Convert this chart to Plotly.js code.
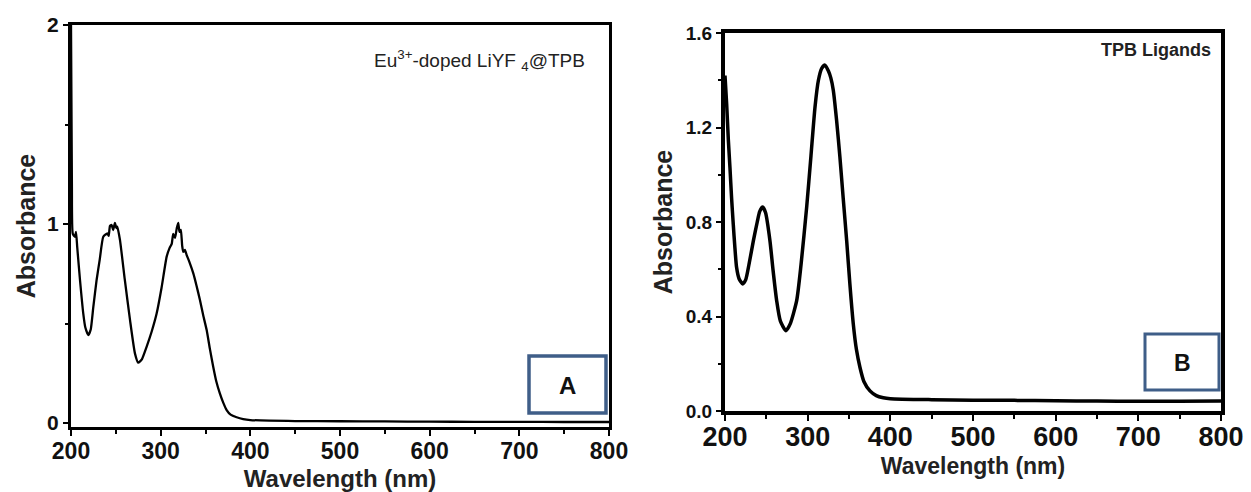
<!DOCTYPE html>
<html>
<head>
<meta charset="utf-8">
<script src="https://cdn.plot.ly/plotly-3.0.1.min.js"></script>
<style>
  html, body { margin: 0; padding: 0; background: #ffffff; }
  #chart { width: 1251px; height: 492px; }
</style>
</head>
<body>
<div id="chart"></div>
<script>
// Panel A: Eu3+-doped LiYF4@TPB absorbance
const wavelengthA = [200, 201, 202, 204.5, 205.6, 207, 210, 213.7, 216, 219.3, 222, 224.9, 228.6, 232, 236, 240.5, 242, 243.5, 245.3, 247, 249, 250.5, 251.6, 254.6, 260, 265.8, 271.3, 275, 279, 284.3, 290, 295.5, 301, 306.7, 310, 312.3, 314, 316, 318, 319.6, 321, 322.5, 324, 325.2, 327, 329, 332, 336.4, 340, 343.8, 347.5, 351.3, 355, 358.6, 362, 366, 370, 373.6, 378, 384.7, 392, 400, 450, 500, 550, 600, 650, 700, 750, 800];
const absorbA = [2.0, 1.2, 0.95, 0.936, 0.96, 0.88, 0.72, 0.55, 0.48, 0.442, 0.47, 0.584, 0.72, 0.82, 0.936, 0.953, 0.94, 0.99, 0.995, 0.97, 1.006, 0.98, 0.987, 0.92, 0.72, 0.518, 0.35, 0.303, 0.32, 0.383, 0.46, 0.55, 0.68, 0.836, 0.88, 0.90, 0.95, 0.93, 0.98, 1.006, 0.96, 0.97, 0.89, 0.86, 0.87, 0.844, 0.81, 0.752, 0.69, 0.618, 0.54, 0.467, 0.37, 0.283, 0.21, 0.149, 0.1, 0.065, 0.042, 0.029, 0.02, 0.015, 0.01, 0.009, 0.008, 0.007, 0.006, 0.006, 0.005, 0.005];

// Panel B: TPB ligands absorbance
const wavelengthB = [200, 202, 204, 206, 208, 210, 212, 214, 217, 221.4, 225, 229, 234.3, 239, 242, 245.6, 249, 254.4, 258, 262.5, 267, 273.8, 279, 286.7, 292, 298.8, 304, 308.9, 313, 317, 321, 325, 328, 331, 335, 339, 343, 347.2, 351, 355.2, 359, 363.3, 368, 375.4, 383, 391.5, 400, 450, 500, 550, 600, 650, 700, 750, 800];
const absorbB = [1.42, 1.3, 1.15, 1.03, 0.9, 0.79, 0.69, 0.608, 0.56, 0.538, 0.555, 0.62, 0.72, 0.8, 0.845, 0.863, 0.84, 0.72, 0.6, 0.467, 0.38, 0.34, 0.37, 0.467, 0.62, 0.863, 1.08, 1.287, 1.4, 1.45, 1.464, 1.44, 1.41, 1.358, 1.23, 1.075, 0.9, 0.72, 0.54, 0.368, 0.26, 0.184, 0.125, 0.085, 0.065, 0.056, 0.052, 0.048, 0.046, 0.045, 0.043, 0.042, 0.041, 0.041, 0.042];

const xTickVals = [200, 300, 400, 500, 600, 700, 800];
const yTickValsA = [0, 1, 2];
const yTickValsB = [0.0, 0.4, 0.8, 1.2, 1.6];
const yTickTextB = ['0.0', '0.4', '0.8', '1.2', '1.6'];

const W = 1251, H = 492;
const px = v => v / W;
const py = v => 1 - v / H;
const FONT = 'Liberation Sans, Arial, sans-serif';
const BOXC = '#3f5e88';

const traces = [
  { x: wavelengthA, y: absorbA, xaxis: 'x', yaxis: 'y', type: 'scatter', mode: 'lines',
    line: { color: '#000000', width: 2.3, shape: 'spline', smoothing: 0.5 }, showlegend: false, hoverinfo: 'skip' },
  { x: wavelengthB, y: absorbB, xaxis: 'x2', yaxis: 'y2', type: 'scatter', mode: 'lines',
    line: { color: '#000000', width: 3.5, shape: 'spline', smoothing: 0.6 }, showlegend: false, hoverinfo: 'skip' }
];

function xAxis(domain, lw, tickSize, titleSize, anchor, standoff, tls) {
  return {
    domain: domain, anchor: anchor, range: [200, 800], tickvals: xTickVals,
    showline: true, mirror: true, linecolor: '#000', linewidth: lw,
    ticks: 'outside', ticklen: 6, tickwidth: 2, tickcolor: '#000',
    ticklabelstandoff: tls,
    minor: { dtick: 50, tick0: 200, ticks: 'outside', ticklen: 4, tickwidth: 2, tickcolor: '#000' },
    showgrid: false, zeroline: false, fixedrange: true,
    tickfont: { family: FONT, size: tickSize, color: '#111', weight: 700 },
    title: { text: 'Wavelength (nm)', standoff: standoff,
             font: { family: FONT, size: titleSize, color: '#222', weight: 700 } },
    automargin: false
  };
}

const layout = {
  width: W, height: H,
  margin: { l: 0, r: 0, t: 0, b: 0 },
  paper_bgcolor: '#ffffff', plot_bgcolor: '#ffffff',
  showlegend: false,
  xaxis: xAxis([71 / W, 609 / W], 3, 23, 24, 'y', 9, -5),
  yaxis: {
    domain: [py(427), py(25)], anchor: 'x', range: [-0.02, 2], tickvals: yTickValsA,
    showline: true, mirror: true, linecolor: '#000', linewidth: 3,
    ticks: 'outside', ticklen: 5, tickwidth: 2, tickcolor: '#000',
    minor: { dtick: 0.5, tick0: 0, ticks: 'outside', ticklen: 3, tickwidth: 2, tickcolor: '#000' },
    showgrid: false, zeroline: false, fixedrange: true,
    tickfont: { family: FONT, size: 21, color: '#111', weight: 700 },
    title: { text: 'Absorbance', standoff: 5,
             font: { family: FONT, size: 25, color: '#222', weight: 700 } },
    automargin: false
  },
  xaxis2: xAxis([725 / W, 1221 / W], 4, 27, 23, 'y2', 7, -7),
  yaxis2: {
    domain: [py(411), py(33)], anchor: 'x2', range: [0, 1.6], tickvals: yTickValsB, ticktext: yTickTextB,
    showline: true, mirror: true, linecolor: '#000', linewidth: 4,
    ticks: 'outside', ticklen: 5, tickwidth: 2, tickcolor: '#000',
    minor: { dtick: 0.2, tick0: 0, ticks: 'outside', ticklen: 3, tickwidth: 2, tickcolor: '#000' },
    showgrid: false, zeroline: false, fixedrange: true,
    tickfont: { family: FONT, size: 19, color: '#111', weight: 700 },
    title: { text: 'Absorbance', standoff: 7,
             font: { family: FONT, size: 25, color: '#222', weight: 700 } },
    automargin: false
  },
  shapes: [
    { type: 'rect', xref: 'paper', yref: 'paper', x0: px(529), x1: px(606), y0: py(413), y1: py(356),
      line: { color: BOXC, width: 3.5 }, fillcolor: '#ffffff', layer: 'above' },
    { type: 'rect', xref: 'paper', yref: 'paper', x0: px(1145), x1: px(1219), y0: py(390), y1: py(334),
      line: { color: BOXC, width: 3 }, fillcolor: '#ffffff', layer: 'above' }
  ],
  annotations: [
    { xref: 'paper', yref: 'paper', x: px(587), y: py(60), xanchor: 'right', yanchor: 'middle',
      text: 'Eu<sup>3+</sup>-doped LiYF <sub>4</sub>@TPB', showarrow: false,
      font: { family: FONT, size: 19, color: '#222' } },
    { xref: 'paper', yref: 'paper', x: px(1213), y: py(50), xanchor: 'right', yanchor: 'middle',
      text: 'TPB Ligands', showarrow: false,
      font: { family: FONT, size: 18, color: '#222', weight: 700 } },
    { xref: 'paper', yref: 'paper', x: px(567), y: py(385), xanchor: 'center', yanchor: 'middle',
      text: 'A', showarrow: false, font: { family: FONT, size: 24, color: '#111', weight: 700 } },
    { xref: 'paper', yref: 'paper', x: px(1182), y: py(363), xanchor: 'center', yanchor: 'middle',
      text: 'B', showarrow: false, font: { family: FONT, size: 23, color: '#111', weight: 700 } }
  ]
};

Plotly.newPlot('chart', traces, layout, { displayModeBar: false, staticPlot: true });
</script>
</body>
</html>
